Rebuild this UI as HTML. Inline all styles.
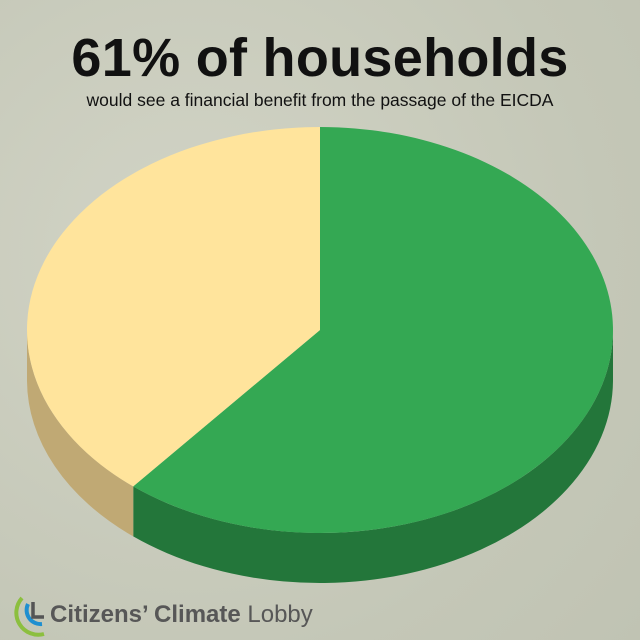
<!DOCTYPE html>
<html><head><meta charset="utf-8"><style>
body{margin:0;width:640px;height:640px;overflow:hidden;background:#c9cbbd;font-family:"Liberation Sans",sans-serif}
#wrap{position:relative;width:640px;height:640px;background:radial-gradient(circle at 30% 40%,#d2d4c6,#c4c7b7 70%,#c0c3b3)}
#title{position:absolute;top:27px;left:0;width:640px;text-align:center;font-size:54px;font-weight:bold;color:#111;letter-spacing:0.3px}
#sub{position:absolute;top:90px;left:0;width:640px;text-align:center;font-size:17.5px;color:#111}
svg{position:absolute;left:0;top:0}
</style></head><body>
<div id="wrap">
<div id="title">61% of households</div>
<div id="sub">would see a financial benefit from the passage of the EICDA</div>
<svg id="pie" width="640" height="640">
<g id="logo">
<path d="M22 598 A22 22 0 0 0 44 634" fill="none" stroke="#8cbf3f" stroke-width="4"/>
<path d="M28 604 A14 14 0 0 0 42 624" fill="none" stroke="#1f8fd0" stroke-width="4"/>
<path d="M33 602 V617 H44" fill="none" stroke="#555" stroke-width="3.5"/>
<text x="50" y="622" font-size="24" font-weight="bold" fill="#575757" font-family="Liberation Sans, sans-serif">Citizens’ Climate <tspan font-weight="normal">Lobby</tspan></text>
</g>
</svg>
</div>
<script>
const categories=["Financial benefit","No benefit"];
const values=[61,39];
const topColors=["#34a853","#ffe49c"];
const sideColors=["#23763a","#c0a974"];
const cx=320,cy=330,rx=293,ry=203,depth=50;
const svg=document.getElementById('pie');
const NS="http://www.w3.org/2000/svg";
function pt(a,dy){return [cx+rx*Math.sin(a),cy-ry*Math.cos(a)+(dy||0)];}
const total=values.reduce((s,v)=>s+v,0);
let start=0;const slices=[];
values.forEach((v,i)=>{const end=start+v/total*2*Math.PI;slices.push([start,end]);start=end;});
const logo=document.getElementById('logo');
slices.forEach(([a0,a1],i)=>{
  const s=Math.max(a0,Math.PI/2),e=Math.min(a1,Math.PI*1.5);
  if(e<=s)return;
  const p0=pt(s),p1=pt(e),q1=pt(e,depth),q0=pt(s,depth);
  const large=(e-s)>Math.PI?1:0;
  const p=document.createElementNS(NS,'path');
  p.setAttribute('d',`M${p0} A${rx} ${ry} 0 ${large} 1 ${p1} L${q1} A${rx} ${ry} 0 ${large} 0 ${q0} Z`);
  p.setAttribute('fill',sideColors[i]);
  
  
  svg.insertBefore(p,logo);
});
slices.forEach(([a0,a1],i)=>{
  const p0=pt(a0),p1=pt(a1);
  const large=(a1-a0)>Math.PI?1:0;
  const p=document.createElementNS(NS,'path');
  p.setAttribute('d',`M${cx},${cy} L${p0} A${rx} ${ry} 0 ${large} 1 ${p1} Z`);
  p.setAttribute('fill',topColors[i]);
  
  
  svg.insertBefore(p,logo);
});
</script>
</body></html>
